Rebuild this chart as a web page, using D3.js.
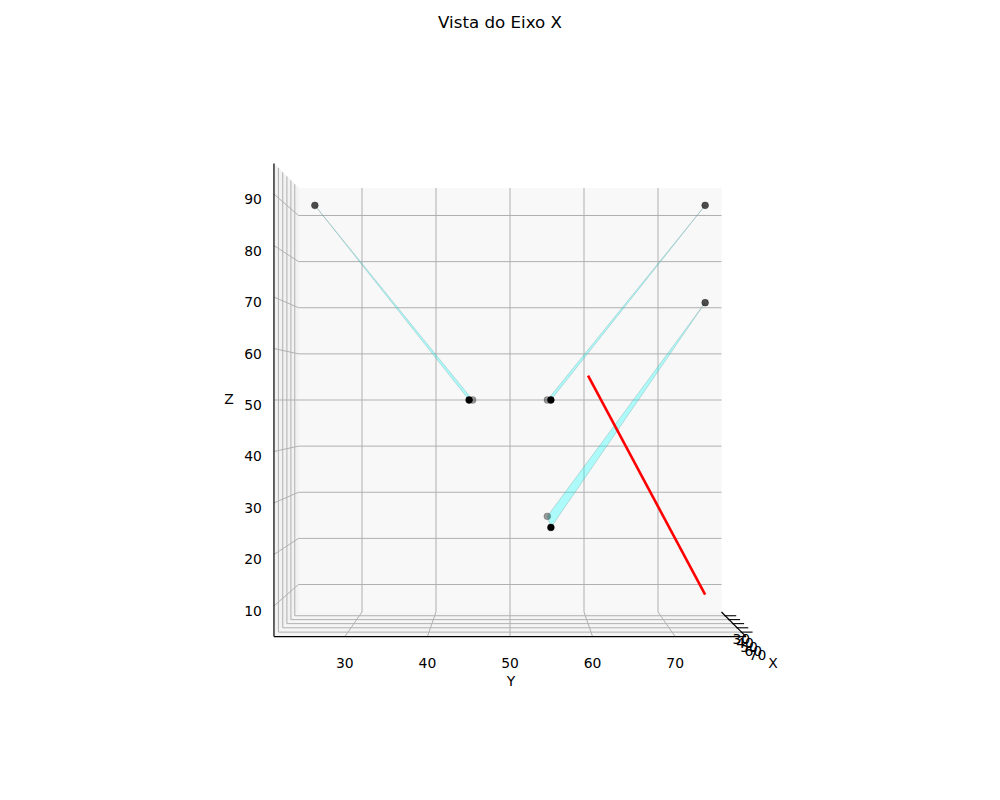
<!DOCTYPE html>
<html>
<head>
<meta charset="utf-8">
<script src="https://cdn.jsdelivr.net/npm/d3@7"></script>
<style>
  html, body { margin: 0; padding: 0; background: #fff; }
  svg { display: block; font-family: "DejaVu Sans", sans-serif; }
</style>
</head>
<body>
<svg id="chart" width="1000" height="800"></svg>
<script>
// ---------------- data ----------------
const title = "Vista do Eixo X";
const xTicks = [30, 40, 50, 60, 70];
const yTicks = [30, 40, 50, 60, 70];
const zTicks = [10, 20, 30, 40, 50, 60, 70, 80, 90];

// scatter points (x, y, z)
const pointX = [50, 50, 50, 75, 25, 75, 25, 75, 25];
const pointY = [25, 75, 75, 45, 45, 55, 55, 55, 55];
const pointZ = [90, 90, 70, 50, 50, 50, 50, 25, 25];
// triangles joining points (indices into point arrays)
const triangles = [[0, 3, 4], [1, 5, 6], [2, 7, 8]];
// red segment
const lineX = [50, 50];
const lineY = [60, 75];
const lineZ = [55, 10];

// axis limits
const xlim = [20, 80];
const ylim = [21.42, 78.58];
const zlim = [4.04, 95.96];

// ---------------- projection ----------------
const svg = d3.select("#chart");
const cx = 510, cy = 400;
const eye = 597; // camera position along x (data units)
const yS = d3.scaleLinear().domain(ylim).range([cx - 211.5, cx + 211.5]); // back plane
const zS = d3.scaleLinear().domain(zlim).range([cy + 212, cy - 212]);
const distS = d3.scaleLinear().domain(xlim).range([eye - xlim[0], eye - xlim[1]]);
const persp = x => distS(xlim[0]) / distS(x);
function proj(x, y, z) {
  const f = persp(x);
  return [cx + (yS(y) - cx) * f, cy + (zS(z) - cy) * f];
}
const line = d3.line();

const [xlo, xhi] = xlim, [ylo, yhi] = ylim, [zlo, zhi] = zlim;

// ---------------- panes ----------------
const panes = [
  { pts: [[xlo, ylo, zlo], [xlo, yhi, zlo], [xlo, yhi, zhi], [xlo, ylo, zhi]], fill: "#f8f8f8" }, // back (x pane)
  { pts: [[xlo, ylo, zlo], [xhi, ylo, zlo], [xhi, ylo, zhi], [xlo, ylo, zhi]], fill: "#f2f2f2" }, // left (y pane)
  { pts: [[xlo, ylo, zlo], [xhi, ylo, zlo], [xhi, yhi, zlo], [xlo, yhi, zlo]], fill: "#f5f5f5" }  // bottom (z pane)
];
svg.append("g").selectAll("path").data(panes).join("path")
  .attr("d", p => line(p.pts.map(q => proj(...q))) + "Z")
  .attr("fill", p => p.fill)
  .attr("stroke", p => p.fill)
  .attr("stroke-width", 0.5);

// ---------------- grid ----------------
const grid = [];
yTicks.forEach(y => grid.push([[xhi, y, zlo], [xlo, y, zlo], [xlo, y, zhi]]));
zTicks.forEach(z => grid.push([[xhi, ylo, z], [xlo, ylo, z], [xlo, yhi, z]]));
xTicks.forEach(x => grid.push([[x, yhi, zlo], [x, ylo, zlo], [x, ylo, zhi]]));
svg.append("g").selectAll("path").data(grid).join("path")
  .attr("d", g => line(g.map(q => proj(...q))))
  .attr("fill", "none")
  .attr("stroke", "#b0b0b0")
  .attr("stroke-width", 1);

// ---------------- axis lines ----------------
const axes = [
  [[xhi, ylo, zlo], [xhi, ylo, zhi]],
  [[xhi, ylo, zlo], [xhi, yhi, zlo]],
  [[xlo, yhi, zlo], [xhi, yhi, zlo]]
];
svg.append("g").selectAll("path").data(axes).join("path")
  .attr("d", a => line(a.map(q => proj(...q))))
  .attr("fill", "none")
  .attr("stroke", "#000")
  .attr("stroke-width", 1.2);

// x ticks
const xt = svg.append("g");
xt.selectAll("line").data(xTicks).join("line")
  .attr("x1", d => proj(d, yhi, zlo)[0] - 1)
  .attr("x2", d => proj(d, yhi, zlo)[0] + 11)
  .attr("y1", d => proj(d, yhi, zlo)[1])
  .attr("y2", d => proj(d, yhi, zlo)[1])
  .attr("stroke", "#000").attr("stroke-width", 1.1);
xt.selectAll("text").data(xTicks).join("text")
  .attr("x", d => proj(d, yhi, zlo)[0] + 16)
  .attr("y", d => proj(d, yhi, zlo)[1] + 28)
  .attr("text-anchor", "middle")
  .attr("font-size", "13.9px")
  .text(d => d);

// y tick labels
svg.append("g").selectAll("text").data(yTicks).join("text")
  .attr("x", d => proj(xhi, d, zlo)[0])
  .attr("y", d => proj(xhi, d, zlo)[1] + 31)
  .attr("text-anchor", "middle")
  .attr("font-size", "13.9px")
  .text(d => d);

// z tick labels
svg.append("g").selectAll("text").data(zTicks).join("text")
  .attr("x", d => proj(xhi, ylo, d)[0] - 12)
  .attr("y", d => proj(xhi, ylo, d)[1] + 10)
  .attr("text-anchor", "end")
  .attr("font-size", "13.9px")
  .text(d => d);

// axis labels
const yBase = proj(xhi, (ylo + yhi) / 2, zlo);
svg.append("text").attr("x", yBase[0] + 1).attr("y", yBase[1] + 49)
  .attr("text-anchor", "middle").attr("font-size", "13.9px").text("Y");
const zBase = proj(xhi, ylo, (zlo + zhi) / 2);
svg.append("text").attr("x", zBase[0] - 45).attr("y", zBase[1] + 4)
  .attr("text-anchor", "middle").attr("font-size", "13.9px").text("Z");
const xBase = proj(xhi, yhi, zlo);
svg.append("text").attr("x", xBase[0] + 27).attr("y", xBase[1] + 31)
  .attr("text-anchor", "middle").attr("font-size", "13.9px").text("X");

// title
svg.append("text").attr("x", 500).attr("y", 28)
  .attr("text-anchor", "middle").attr("font-size", "16.67px").text(title);

// ---------------- triangles ----------------
svg.append("g").selectAll("path").data(triangles).join("path")
  .attr("d", t => line(t.map(i => proj(pointX[i], pointY[i], pointZ[i]))) + "Z")
  .attr("fill", "cyan")
  .attr("fill-opacity", 0.3)
  .attr("stroke", "#6f9f9f")
  .attr("stroke-opacity", 0.35)
  .attr("stroke-width", 1);

// ---------------- red line ----------------
svg.append("path")
  .attr("d", line(lineX.map((x, i) => proj(x, lineY[i], lineZ[i]))))
  .attr("fill", "none")
  .attr("stroke", "red")
  .attr("stroke-width", 2.6);

// ---------------- scatter ----------------
const shade = d3.scaleLinear().domain([25, 75]).range([0.38, 1]);
const idx = d3.range(pointX.length).sort((a, b) => pointX[a] - pointX[b]);
svg.append("g").selectAll("circle").data(idx).join("circle")
  .attr("cx", i => proj(pointX[i], pointY[i], pointZ[i])[0])
  .attr("cy", i => proj(pointX[i], pointY[i], pointZ[i])[1])
  .attr("r", 3.4)
  .attr("fill", "#000")
  .attr("fill-opacity", i => shade(pointX[i]))
  .attr("stroke", "#000")
  .attr("stroke-opacity", i => shade(pointX[i]))
  .attr("stroke-width", 0.5);
</script>
</body>
</html>
